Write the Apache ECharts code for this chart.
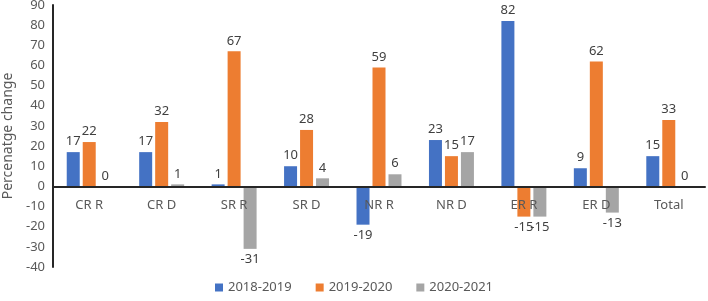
<!doctype html>
<html lang="en">
<head>
	<meta charset="UTF-8">
	<title>Percentage change</title>
	<script src="https://cdn.jsdelivr.net/npm/echarts@6/dist/echarts.min.js"></script>
	<style>
		html, body { margin: 0; padding: 0; width: 100%; height: 100%; background: #fff; }
		#main { width: 708px; height: 301px; }
	</style>
</head>
<body>
	<div id="main"></div>
	<script type="text/javascript">
		var categories = ['CR R', 'CR D', 'SR R', 'SR D', 'NR R', 'NR D', 'ER R', 'ER D', 'Total'];
		var seriesNames = ['2018-2019', '2019-2020', '2020-2021'];
		var v2018 = [17, 17, 1, 10, -19, 23, 82, 9, 15];
		var v2019 = [22, 32, 67, 28, 59, 15, -15, 62, 33];
		var v2020 = [0, 1, -31, 4, 6, 17, -15, -13, 0];
		var colors = ['#4472C4', '#ED7D31', '#A5A5A5'];

		var font = 'Noto Sans';

		// negative bars get their label under the bar end
		function toData(arr) {
			return arr.map(function (v) {
				return { value: v, label: { position: v < 0 ? 'bottom' : 'top' } };
			});
		}

		var myChart = echarts.init(document.getElementById('main'));
		var option = {
			animation: false,
			color: colors,
			textStyle: { fontFamily: font },
			grid: { left: 53, right: 3, top: 5, bottom: 34, containLabel: false, outerBoundsMode: 'none' },
			legend: {
				bottom: 2,
				left: 'center',
				itemWidth: 8,
				itemHeight: 8,
				itemGap: 24,
				icon: 'rect',
				textStyle: { fontSize: 13, color: '#595959', fontFamily: font }
			},
			xAxis: {
				type: 'category',
				data: categories,
				z: 5,
				axisLine: { onZero: true, lineStyle: { color: '#262626', width: 2 } },
				axisTick: { show: false },
				// labels sit just under the zero line, drawn over the bars like the original
				axisLabel: { color: '#595959', fontSize: 13, margin: -68 }
			},
			yAxis: {
				type: 'value',
				min: -40,
				max: 90,
				interval: 10,
				name: 'Percenatge change',
				nameLocation: 'middle',
				nameGap: 34,
				nameTextStyle: { color: '#595959', fontSize: 14 },
				axisLine: { show: true, lineStyle: { color: '#262626', width: 2 } },
				axisTick: { show: false },
				splitLine: { show: false },
				axisLabel: { color: '#595959', fontSize: 13, margin: 8 }
			},
			series: [v2018, v2019, v2020].map(function (arr, i) {
				return {
					name: seriesNames[i],
					type: 'bar',
					barWidth: 13,
					barGap: '23%',
					data: toData(arr),
					label: { show: true, color: '#404040', fontSize: 13, distance: 4 }
				};
			})
		};
		myChart.setOption(option);
	</script>
</body>
</html>
